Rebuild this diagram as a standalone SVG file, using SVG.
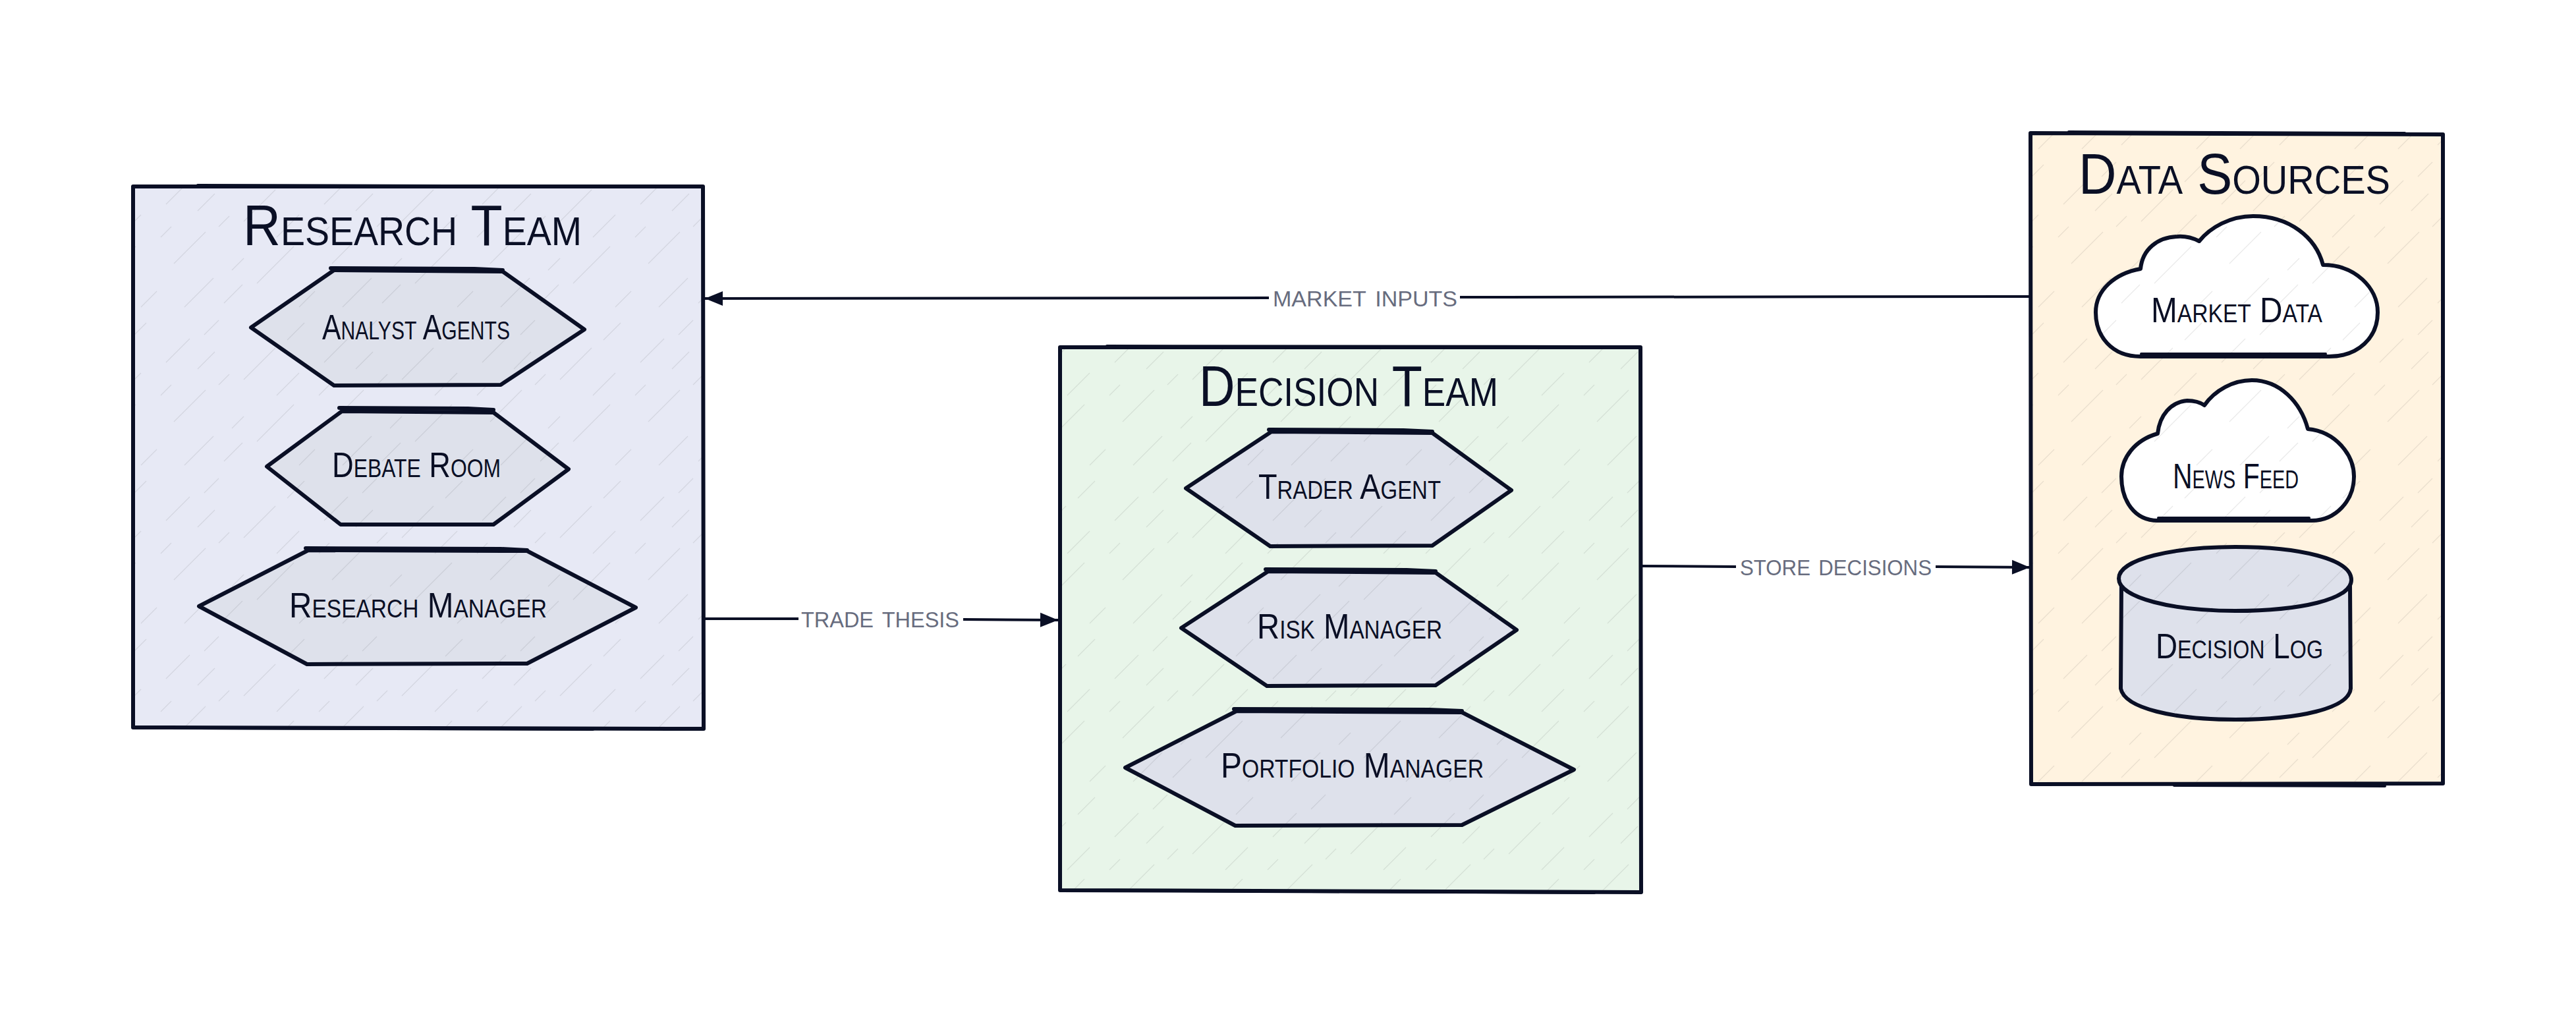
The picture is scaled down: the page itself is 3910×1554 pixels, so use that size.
<svg xmlns="http://www.w3.org/2000/svg" width="3910" height="1554" viewBox="0 0 3910 1554">
<style>
.bg{stroke:none}
.blue{fill:#E7E9F5}.green{fill:#E8F5E9}.orange{fill:#FFF3E0}.node{fill:#DEE1EB}.white{fill:#FFFFFF}
.hatch{fill:url(#hatch);stroke:none}
.ink{fill:none;stroke:#0A0F25;stroke-width:6;stroke-linejoin:round;stroke-linecap:round}
.thin{fill:none;stroke:#0A0F25;stroke-width:4;stroke-linejoin:round;stroke-linecap:round}
.conn{fill:none;stroke:#0A0F25;stroke-width:4;marker-end:url(#arrow)}
text{font-family:"Liberation Sans",Arial,sans-serif;font-variant:small-caps;fill:#0A0F25;text-anchor:start}
.title{font-size:88px;font-weight:400}
.label{font-size:54px}
.edge{font-size:48px;fill:#676C7E}
</style>
<defs>
<marker id="arrow" markerUnits="userSpaceOnUse" markerWidth="32" markerHeight="28" refX="29" refY="14" orient="auto">
<path d="M2 3 L29 14 L2 25 Z" fill="#0A0F25"/>
</marker>
<pattern id="hatch" patternUnits="userSpaceOnUse" width="240" height="240">
<path d="M12 70 L48 34 M70 28 L92 6 M130 96 L178 48 M196 36 L222 10 M24 160 L72 112 M92 104 L108 88 M150 190 L206 134 M40 226 L84 182 M112 170 L130 152 M214 226 L238 202 M60 80 L86 54 M180 120 L214 86 M100 220 L128 192 M4 120 L20 104" fill="none" stroke="#000" stroke-opacity="0.085" stroke-width="1.1"/>
</pattern>
</defs>

<g id="connectors">
<path class="conn" d="M3081 450 L2216 451 M1926 452 L1070 453"/>
<path class="conn" d="M1068 939 L1212 939 M1462 940 L1606 941"/>
<path class="conn" d="M2491 859 L2635 860 M2938 860 L3081 861"/>
<text class="edge" x="1932" y="465" textLength="280" lengthAdjust="spacingAndGlyphs">market inputs</text>
<text class="edge" x="1216" y="952" textLength="240" lengthAdjust="spacingAndGlyphs">trade thesis</text>
<text class="edge" x="2641" y="873" textLength="291" lengthAdjust="spacingAndGlyphs">store decisions</text>
</g>

<g id="research-team">
<rect class="bg blue" x="201" y="282" width="867" height="823"/>
<rect class="hatch" x="201" y="282" width="867" height="823"/>
<path class="ink" d="M202 283 L1067 283 L1068 1106 L202 1104 Z"/>
<path class="thin" d="M300 281 L1000 283 M300 1105 L900 1107"/>
<text class="title" x="369" y="372" textLength="514" lengthAdjust="spacingAndGlyphs">Research Team</text>
</g>

<g id="analyst-agents">
<path class="bg node" d="M381 497 L504 408 L763 410 L887 500 L760 584 L507 585 Z"/>
<path class="hatch" d="M381 497 L504 408 L763 410 L887 500 L760 584 L507 585 Z"/>
<path class="ink" d="M381 497 L507 410 L763 412 L887 500 L760 584 L507 585 Z"/>
<path class="ink" d="M502 407 L720 408 L763 410"/>
<text class="label" x="489" y="515" textLength="285" lengthAdjust="spacingAndGlyphs">Analyst Agents</text>
</g>

<g id="debate-room">
<path class="bg node" d="M405 708 L517 622 L749 624 L863 712 L749 796 L517 796 Z"/>
<path class="hatch" d="M405 708 L517 622 L749 624 L863 712 L749 796 L517 796 Z"/>
<path class="ink" d="M405 708 L519 624 L749 626 L863 712 L749 796 L517 796 Z"/>
<path class="ink" d="M515 619 L710 620 L749 622"/>
<text class="label" x="504" y="724" textLength="256" lengthAdjust="spacingAndGlyphs">Debate Room</text>
</g>

<g id="research-manager">
<path class="bg node" d="M302 920 L466 833 L800 835 L965 922 L800 1007 L466 1008 Z"/>
<path class="hatch" d="M302 920 L466 833 L800 835 L965 922 L800 1007 L466 1008 Z"/>
<path class="ink" d="M302 920 L468 835 L800 836 L965 922 L800 1007 L466 1008 Z"/>
<path class="ink" d="M464 832 L760 833 L800 835"/>
<text class="label" x="439" y="937" textLength="391" lengthAdjust="spacingAndGlyphs">Research Manager</text>
</g>

<g id="decision-team">
<rect class="bg green" x="1608" y="526" width="883" height="826"/>
<rect class="hatch" x="1608" y="526" width="883" height="826"/>
<path class="ink" d="M1609 527 L2490 527 L2491 1354 L1609 1351 Z"/>
<path class="thin" d="M1680 525 L2400 526 M1800 1352 L2420 1355"/>
<text class="title" x="1820" y="616" textLength="454" lengthAdjust="spacingAndGlyphs">Decision Team</text>
</g>

<g id="trader-agent">
<path class="bg node" d="M1800 741 L1928 653 L2174 655 L2294 744 L2174 828 L1928 829 Z"/>
<path class="hatch" d="M1800 741 L1928 653 L2174 655 L2294 744 L2174 828 L1928 829 Z"/>
<path class="ink" d="M1800 741 L1930 655 L2174 657 L2294 744 L2174 828 L1928 829 Z"/>
<path class="ink" d="M1926 652 L2130 653 L2174 655"/>
<text class="label" x="1910" y="757" textLength="277" lengthAdjust="spacingAndGlyphs">Trader Agent</text>
</g>

<g id="risk-manager">
<path class="bg node" d="M1793 953 L1923 865 L2179 867 L2302 956 L2179 1040 L1923 1041 Z"/>
<path class="hatch" d="M1793 953 L1923 865 L2179 867 L2302 956 L2179 1040 L1923 1041 Z"/>
<path class="ink" d="M1793 953 L1925 867 L2179 869 L2302 956 L2179 1040 L1923 1041 Z"/>
<path class="ink" d="M1921 864 L2135 865 L2179 867"/>
<text class="label" x="1908" y="969" textLength="281" lengthAdjust="spacingAndGlyphs">Risk Manager</text>
</g>

<g id="portfolio-manager">
<path class="bg node" d="M1708 1165 L1875 1077 L2219 1079 L2389 1168 L2219 1252 L1875 1253 Z"/>
<path class="hatch" d="M1708 1165 L1875 1077 L2219 1079 L2389 1168 L2219 1252 L1875 1253 Z"/>
<path class="ink" d="M1708 1165 L1877 1079 L2219 1081 L2389 1168 L2219 1252 L1875 1253 Z"/>
<path class="ink" d="M1873 1076 L2170 1077 L2219 1079"/>
<text class="label" x="1853" y="1180" textLength="399" lengthAdjust="spacingAndGlyphs">Portfolio Manager</text>
</g>

<g id="data-sources">
<rect class="bg orange" x="3081" y="201" width="628" height="989"/>
<rect class="hatch" x="3081" y="201" width="628" height="989"/>
<path class="ink" d="M3082 202 L3708 204 L3708 1189 L3083 1190 Z"/>
<path class="thin" d="M3140 200 L3650 202 M3300 1192 L3620 1193"/>
<text class="title" x="3155" y="294" textLength="473" lengthAdjust="spacingAndGlyphs">Data Sources</text>
</g>

<g id="market-data">
<path class="bg white" d="M3249 541 C3205 541 3181 510 3181 474 C3181 440 3210 415 3249 408 C3252 378 3275 360 3305 359 C3318 358 3330 362 3338 366 C3355 345 3385 328 3420 328 C3475 328 3515 360 3526 402 C3575 402 3609 437 3609 474 C3609 512 3580 541 3535 541 Z"/>
<path class="hatch" d="M3249 541 C3205 541 3181 510 3181 474 C3181 440 3210 415 3249 408 C3252 378 3275 360 3305 359 C3318 358 3330 362 3338 366 C3355 345 3385 328 3420 328 C3475 328 3515 360 3526 402 C3575 402 3609 437 3609 474 C3609 512 3580 541 3535 541 Z"/>
<path class="ink" d="M3249 541 C3205 541 3181 510 3181 474 C3181 440 3210 415 3249 408 C3252 378 3275 360 3305 359 C3318 358 3330 362 3338 366 C3355 345 3385 328 3420 328 C3475 328 3515 360 3526 402 C3575 402 3609 437 3609 474 C3609 512 3580 541 3535 541 Z"/>
<path class="thin" d="M3250 537 L3530 537"/>
<text class="label" x="3265" y="489" textLength="260" lengthAdjust="spacingAndGlyphs">Market Data</text>
</g>

<g id="news-feed">
<path class="bg white" d="M3275 790 C3240 790 3220 760 3220 723 C3220 695 3240 668 3275 658 C3278 630 3295 610 3320 608 C3330 608 3340 611 3346 615 C3362 592 3390 577 3418 577 C3460 577 3492 610 3503 651 C3545 655 3573 690 3573 723 C3573 760 3545 790 3509 790 Z"/>
<path class="hatch" d="M3275 790 C3240 790 3220 760 3220 723 C3220 695 3240 668 3275 658 C3278 630 3295 610 3320 608 C3330 608 3340 611 3346 615 C3362 592 3390 577 3418 577 C3460 577 3492 610 3503 651 C3545 655 3573 690 3573 723 C3573 760 3545 790 3509 790 Z"/>
<path class="ink" d="M3275 790 C3240 790 3220 760 3220 723 C3220 695 3240 668 3275 658 C3278 630 3295 610 3320 608 C3330 608 3340 611 3346 615 C3362 592 3390 577 3418 577 C3460 577 3492 610 3503 651 C3545 655 3573 690 3573 723 C3573 760 3545 790 3509 790 Z"/>
<path class="thin" d="M3276 786 L3505 786"/>
<text class="label" x="3298" y="741" textLength="191" lengthAdjust="spacingAndGlyphs">News Feed</text>
</g>

<g id="decision-log">
<path class="bg node" d="M3216 878 C3216 848 3300 830 3393 830 C3490 830 3569 848 3569 878 L3568 1045 C3565 1075 3490 1092 3393 1092 C3300 1092 3225 1075 3219 1045 Z"/>
<path class="hatch" d="M3216 878 C3216 848 3300 830 3393 830 C3490 830 3569 848 3569 878 L3568 1045 C3565 1075 3490 1092 3393 1092 C3300 1092 3225 1075 3219 1045 Z"/>
<path class="ink" d="M3216 878 C3216 848 3300 830 3393 830 C3490 830 3569 848 3569 880 C3569 910 3490 927 3393 927 C3300 927 3216 908 3216 878 Z"/>
<path class="ink" d="M3220 890 L3219 1045 C3225 1075 3300 1092 3393 1092 C3490 1092 3565 1075 3568 1045 L3567 890"/>
<text class="label" x="3272" y="999" textLength="254" lengthAdjust="spacingAndGlyphs">Decision Log</text>
</g>
</svg>
